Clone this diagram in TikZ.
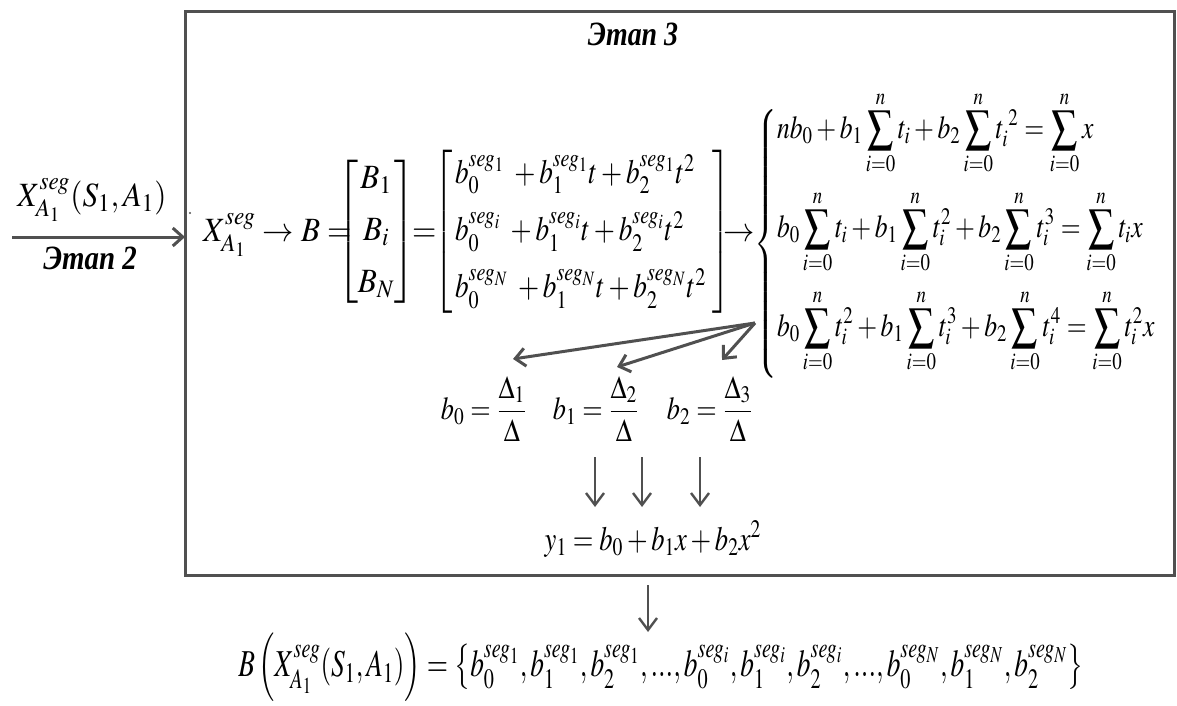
\documentclass[tikz,border=0pt]{standalone}
\usepackage{amsmath}
\usepackage{mathptmx}
\usepackage[no-math]{fontspec}
\setmainfont{Liberation Serif}
\usepackage{graphicx}
\usetikzlibrary{arrows.meta}
\newcommand\hsq[2]{\scalebox{#1}[1]{#2}}
\newcommand\fsz{\fontsize{17}{20}\selectfont}
\newcommand\fsys{\fontsize{16}{19}\selectfont}
\newcommand\fbig{\fontsize{19}{23}\selectfont}
\definecolor{lc}{RGB}{80,80,80}
\begin{document}
\begin{tikzpicture}[x=0.5pt,y=-0.5pt,
  every node/.style={inner sep=0pt,outer sep=0pt,font=\fsz},
  frame/.style={draw=lc,line width=1.5pt},
  arr/.style={draw=lc,line width=1.5pt,-{Straight Barb[length=5pt,width=9pt,line width=1.5pt]}},
  darr/.style={draw=lc,line width=1.2pt,-{Straight Barb[length=6pt,width=9pt,line width=1.2pt]}},
  stage/.style={font=\fsz\bfseries\itshape},
  frac/.style={font=\fsys}]
\useasboundingbox (0,0) rectangle (1177,706);
% frame of stage 3
\node[frame,anchor=north west,minimum width=494.5pt,minimum height=281.5pt] (box) at (185,12) {};
\node[stage,anchor=base] (t3) at (633,46) {\hsq{0.82}{Этап 3}};
% input from stage 2
\node (lab) at (92,200) {\hsq{0.92}{$X^{seg}_{A_1}(S_1,A_1)$}};
\node[stage] (e2) at (90,258) {\hsq{0.85}{Этап 2}};
\coordinate (s) at (12,237);
\draw[arr] (s) -- (s -| box.west);
\fill[lc] (190,213) circle (0.6pt);
% main row
\node[anchor=base west] (lhs) at (203,241) {\hsq{0.92}{$X^{seg}_{A_1}\to B=$}};
\node[anchor=west] (bm) at (337,232) {\hsq{0.92}{$\begin{bmatrix}B_1\\[6pt]B_i\\[6pt]B_N\end{bmatrix}$}};
\node[anchor=base west] (eq) at (412,241) {\hsq{0.92}{$=$}};
\node[anchor=west] (pm) at (434,232) {\hsq{0.8}{$\left[\begin{array}{@{\,}l@{\;}}b_0^{seg_1}\;+b_1^{seg_1}t+b_2^{seg_1}t^2\\[8pt]
b_0^{seg_i}\;+b_1^{seg_i}t+b_2^{seg_i}t^2\\[8pt]
b_0^{seg_N}\;+b_1^{seg_N}t+b_2^{seg_N}t^2\end{array}\right]$}};
\node[anchor=base west] (ar) at (723,241) {\hsq{0.92}{$\to$}};
\node[font=\fsys] (br) at (767,244) {\hsq{0.8}{$\left\{\vrule height 62pt depth 62pt width 0pt\right.$}};
\node[anchor=west,font=\fsys] (sys) at (777,232) {\hsq{0.8}{$\renewcommand{\arraystretch}{1}\begin{array}{@{}l@{}}
\displaystyle nb_0+b_1\sum_{i=0}^{n}t_i+b_2\sum_{i=0}^{n}t_i^{\;2}=\sum_{i=0}^{n}x\\[20pt]
\displaystyle b_0\sum_{i=0}^{n}t_i+b_1\sum_{i=0}^{n}t_i^2+b_2\sum_{i=0}^{n}t_i^3=\sum_{i=0}^{n}t_ix\\[20pt]
\displaystyle b_0\sum_{i=0}^{n}t_i^2+b_1\sum_{i=0}^{n}t_i^3+b_2\sum_{i=0}^{n}t_i^4=\sum_{i=0}^{n}t_i^2x
\end{array}$}};
% Cramer fractions
\node[frac] (f0) at (484,409) {\hsq{0.82}{$b_0=\dfrac{\Delta_1}{\Delta}$}};
\node[frac] (f1) at (596,409) {\hsq{0.82}{$b_1=\dfrac{\Delta_2}{\Delta}$}};
\node[frac] (f2) at (710,409) {\hsq{0.82}{$b_2=\dfrac{\Delta_3}{\Delta}$}};
\coordinate (src) at (755,323);
\coordinate (d0) at (513,359);
\coordinate (d1) at (617,367);
\coordinate (d2) at (722,360);
\draw[arr] (src) -- (d0);
\draw[arr] (src) -- (d1);
\draw[arr] (src) -- (d2);
% result polynomial
\node[anchor=base] (y1) at (653,550) {\hsq{0.78}{$y_1=b_0+b_1x+b_2x^2$}};
\foreach \xx/\nm in {595/a,642/b,700/c}{
  \coordinate (\nm u) at (\xx,457);
  \coordinate (\nm d) at (\xx,507);
  \draw[darr] (\nm u) -- (\nm d);
}
% output
\coordinate (ou) at (648,585);
\coordinate (od) at (648,632);
\draw[darr] (ou) -- (od);
\node[font=\fbig] (bot) at (661,667) {\hsq{0.72}{$B\left(X^{seg}_{A_1}(S_1,A_1)\right)=\left\{b_0^{seg_1},b_1^{seg_1},b_2^{seg_1},...,b_0^{seg_i},b_1^{seg_i},b_2^{seg_i},...,b_0^{seg_N},b_1^{seg_N},b_2^{seg_N}\right\}$}};
\end{tikzpicture}
\end{document}
